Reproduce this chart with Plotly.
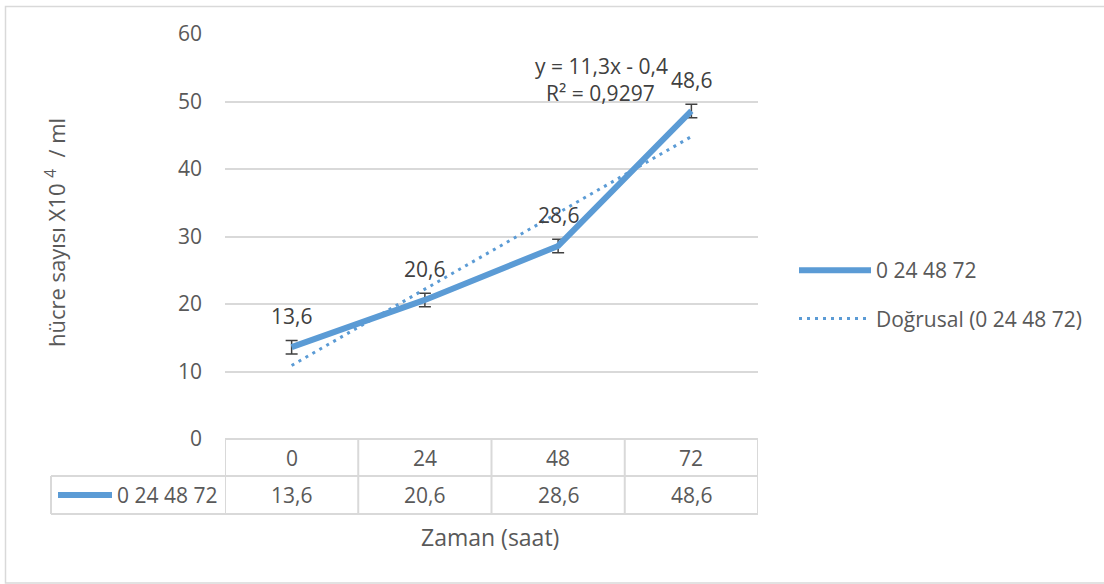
import numpy as np
import plotly.graph_objects as go

categories = ["0", "24", "48", "72"]
values = [13.6, 20.6, 28.6, 48.6]
errors = [1.0, 1.0, 1.0, 1.0]
series_name = "0 24 48 72"
trend_name = "Doğrusal (0 24 48 72)"
y_ticks = [0, 10, 20, 30, 40, 50, 60]
y_title = "hücre sayısı X10 <sup>4</sup>  / ml"
x_title = "Zaman (saat)"

BLUE = "#5B9BD5"
TXT = "#595959"
DARK = "#404040"
GRID = "#D9D9D9"
FONT = "Open Sans"
FS = 21

xi = np.arange(len(categories))
# Linear trendline (Excel style, x = 1..n)
xe = xi + 1
slope, intercept = np.polyfit(xe, values, 1)
fit = slope * xe + intercept
ss_res = np.sum((np.array(values) - fit) ** 2)
ss_tot = np.sum((np.array(values) - np.mean(values)) ** 2)
r2 = 1 - ss_res / ss_tot

def fmt(v, d):
    return f"{v:.{d}f}".replace(".", ",")

fig = go.Figure()
fig.add_trace(go.Scatter(
    x=xi, y=values, mode="lines", name=series_name,
    line=dict(color=BLUE, width=6),
    error_y=dict(type="data", array=errors, color=DARK, thickness=1.5, width=6),
    legendgroup="a",
))
fig.add_trace(go.Scatter(
    x=xi, y=fit, mode="lines", name=trend_name,
    line=dict(color=BLUE, width=3, dash="3px,5px"),
    legendgroup="b",
))

W, H = 1104, 584
L, R, T, B = 225, 346, 34, 145
pw, ph = W - L - R, H - T - B

def px_x(p):
    return (p - L) / pw

def px_y(p):
    return (H - B - p) / ph

def txt(**kw):
    d = dict(showarrow=False, xanchor="center", yanchor="middle")
    d.update(kw)
    return d

shapes = []
annotations = []

# outer border
shapes.append(dict(type="rect", xref="paper", yref="paper",
                   x0=px_x(5.5), x1=px_x(1110), y0=px_y(6.5), y1=px_y(583),
                   line=dict(color=GRID, width=1.5), layer="below"))

# data table
row0, row1, row2 = px_y(439), px_y(476), px_y(514)
n = len(categories)
for i in range(n + 1):
    shapes.append(dict(type="line", xref="x", yref="paper",
                       x0=i - 0.5, x1=i - 0.5, y0=row0, y1=row2,
                       line=dict(color=GRID, width=2)))
shapes.append(dict(type="line", xref="x", yref="paper", x0=-0.5, x1=n - 0.5,
                   y0=row0, y1=row0, line=dict(color=GRID, width=2)))
shapes.append(dict(type="line", xref="paper", yref="paper", x0=px_x(51), x1=px_x(758),
                   y0=row1, y1=row1, line=dict(color=GRID, width=2)))
shapes.append(dict(type="line", xref="paper", yref="paper", x0=px_x(51), x1=px_x(758),
                   y0=row2, y1=row2, line=dict(color=GRID, width=2)))
shapes.append(dict(type="line", xref="paper", yref="paper", x0=px_x(51), x1=px_x(51),
                   y0=row1, y1=row2, line=dict(color=GRID, width=2)))
# legend key in table
shapes.append(dict(type="line", xref="paper", yref="paper", x0=px_x(58), x1=px_x(112),
                   y0=(row1 + row2) / 2, y1=(row1 + row2) / 2,
                   line=dict(color=BLUE, width=6)))
annotations.append(txt(xref="paper", yref="paper", x=px_x(115), y=(row1 + row2) / 2,
                       text=series_name, xanchor="left",
                       font=dict(size=FS, color=TXT, family=FONT)))

for i, (c, v) in enumerate(zip(categories, values)):
    annotations.append(txt(xref="x", yref="paper", x=i, y=(row0 + row1) / 2, text=c,
                           font=dict(size=FS, color=TXT, family=FONT)))
    annotations.append(txt(xref="x", yref="paper", x=i, y=(row1 + row2) / 2, text=fmt(v, 1),
                           font=dict(size=FS, color=TXT, family=FONT)))
    # data labels
    annotations.append(txt(xref="x", yref="y", x=i, y=v, yshift=31, text=fmt(v, 1),
                           font=dict(size=FS, color=DARK, family=FONT)))

# trendline equation
sign = "-" if intercept < 0 else "+"
annotations.append(txt(xref="paper", yref="paper", x=px_x(601), y=px_y(66),
                       text=f"y = {fmt(slope, 1)}x {sign} {fmt(abs(intercept), 1)}",
                       font=dict(size=FS, color=DARK, family=FONT)))
annotations.append(txt(xref="paper", yref="paper", x=px_x(600), y=px_y(93),
                       text=f"R² = {fmt(r2, 4)}",
                       font=dict(size=FS, color=DARK, family=FONT)))

# axis titles
annotations.append(txt(xref="paper", yref="paper", x=px_x(490), y=px_y(537), text=x_title,
                       font=dict(size=23, color=TXT, family=FONT)))
annotations.append(txt(xref="paper", yref="paper", x=px_x(55), y=px_y(233), text=y_title,
                       textangle=-90, font=dict(size=22, color=TXT, family=FONT)))

fig.update_layout(
    width=W, height=H,
    margin=dict(l=L, r=R, t=T, b=B, autoexpand=False),
    paper_bgcolor="white", plot_bgcolor="white",
    font=dict(family=FONT, color=TXT, size=FS),
    xaxis=dict(range=[-0.5, n - 0.5], showticklabels=False, showgrid=False,
               zeroline=False, showline=False, ticks=""),
    yaxis=dict(range=[0, 60], tickvals=y_ticks, showgrid=True, gridcolor=GRID, gridwidth=1.5,
               zeroline=False, showline=False, ticks="", ticklabelstandoff=22,
               tickfont=dict(size=FS, color=TXT, family=FONT)),
    showlegend=True,
    legend=dict(x=px_x(794), y=px_y(250), xanchor="left", yanchor="top",
                itemwidth=72, tracegroupgap=18, bgcolor="rgba(0,0,0,0)",
                font=dict(size=FS, color=TXT, family=FONT)),
    shapes=shapes, annotations=annotations,
)

fig.write_html("out.html", config={"displayModeBar": False},
               post_script="document.body.style.margin='0px';")
